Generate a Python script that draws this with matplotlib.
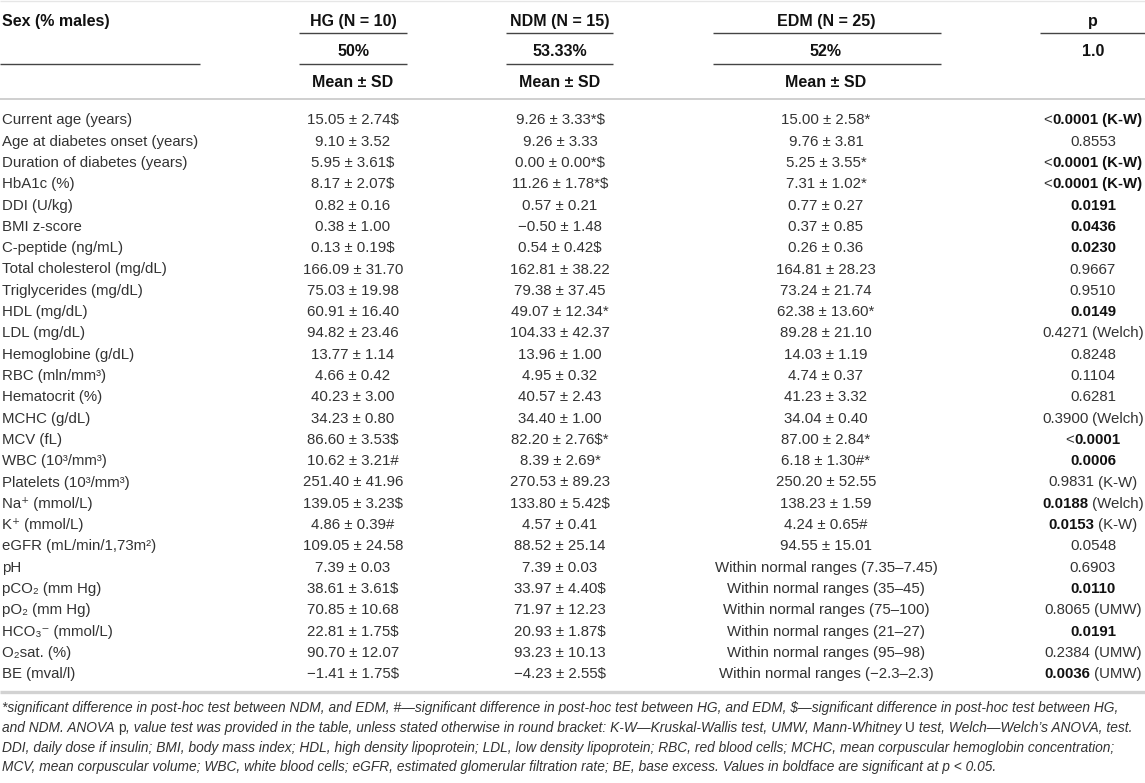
import matplotlib
matplotlib.use("Agg")
import matplotlib.pyplot as plt

plt.rcParams['font.family'] = ['Liberation Sans', 'DejaVu Sans']

# ---------------- data ----------------
row_labels = [
    "Current age (years)", "Age at diabetes onset (years)", "Duration of diabetes (years)",
    "HbA1c (%)", "DDI (U/kg)", "BMI z-score", "C-peptide (ng/mL)", "Total cholesterol (mg/dL)",
    "Triglycerides (mg/dL)", "HDL (mg/dL)", "LDL (mg/dL)", "Hemoglobine (g/dL)",
    "RBC (mln/mm³)", "Hematocrit (%)", "MCHC (g/dL)", "MCV (fL)", "WBC (10³/mm³)",
    "Platelets (10³/mm³)", "Na⁺ (mmol/L)", "K⁺ (mmol/L)", "eGFR (mL/min/1,73m²)",
    "pH", "pCO₂ (mm Hg)", "pO₂ (mm Hg)", "HCO₃⁻ (mmol/L)", "O₂sat. (%)", "BE (mval/l)",
]

groups = ["HG (N = 10)", "NDM (N = 15)", "EDM (N = 25)"]
sex_pct = ["50%", "53.33%", "52%"]
sex_p = "1.0"

hg_mean = [15.05, 9.10, 5.95, 8.17, 0.82, 0.38, 0.13, 166.09, 75.03, 60.91, 94.82, 13.77, 4.66,
           40.23, 34.23, 86.60, 10.62, 251.40, 139.05, 4.86, 109.05, 7.39, 38.61, 70.85, 22.81, 90.70, -1.41]
hg_sd = [2.74, 3.52, 3.61, 2.07, 0.16, 1.00, 0.19, 31.70, 19.98, 16.40, 23.46, 1.14, 0.42,
         3.00, 0.80, 3.53, 3.21, 41.96, 3.23, 0.39, 24.58, 0.03, 3.61, 10.68, 1.75, 12.07, 1.75]
hg_mark = ["$", "", "$", "$", "", "", "$", "", "", "", "", "", "", "", "", "$", "#", "", "$", "#",
           "", "", "$", "", "$", "", "$"]

ndm_mean = [9.26, 9.26, 0.00, 11.26, 0.57, -0.50, 0.54, 162.81, 79.38, 49.07, 104.33, 13.96, 4.95,
            40.57, 34.40, 82.20, 8.39, 270.53, 133.80, 4.57, 88.52, 7.39, 33.97, 71.97, 20.93, 93.23, -4.23]
ndm_sd = [3.33, 3.33, 0.00, 1.78, 0.21, 1.48, 0.42, 38.22, 37.45, 12.34, 42.37, 1.00, 0.32,
          2.43, 1.00, 2.76, 2.69, 89.23, 5.42, 0.41, 25.14, 0.03, 4.40, 12.23, 1.87, 10.13, 2.55]
ndm_mark = ["*$", "", "*$", "*$", "", "", "$", "", "", "*", "", "", "", "", "", "$*", "*", "", "$", "",
            "", "", "$", "", "$", "", "$"]

edm_mean = [15.00, 9.76, 5.25, 7.31, 0.77, 0.37, 0.26, 164.81, 73.24, 62.38, 89.28, 14.03, 4.74,
            41.23, 34.04, 87.00, 6.18, 250.20, 138.23, 4.24, 94.55, None, None, None, None, None, None]
edm_sd = [2.58, 3.81, 3.55, 1.02, 0.27, 0.85, 0.36, 28.23, 21.74, 13.60, 21.10, 1.19, 0.37,
          3.32, 0.40, 2.84, 1.30, 52.55, 1.59, 0.65, 15.01, None, None, None, None, None, None]
edm_mark = ["*", "", "*", "*", "", "", "", "", "", "*", "", "", "", "", "", "*", "#*", "", "", "#",
            "", "", "", "", "", "", ""]
edm_range = [None] * 21 + ["7.35–7.45", "35–45", "75–100", "21–27", "95–98", "−2.3–2.3"]

p_prefix = ["<", "", "<", "<", "", "", "", "", "", "", "", "", "", "", "", "<", "", "", "", "",
            "", "", "", "", "", "", ""]
p_value = ["0.0001", "0.8553", "0.0001", "0.0001", "0.0191", "0.0436", "0.0230", "0.9667", "0.9510",
           "0.0149", "0.4271", "0.8248", "0.1104", "0.6281", "0.3900", "0.0001", "0.0006", "0.9831",
           "0.0188", "0.0153", "0.0548", "0.6903", "0.0110", "0.8065", "0.0191", "0.2384", "0.0036"]
p_test = ["K-W", "", "K-W", "K-W", "", "", "", "", "", "", "Welch", "", "", "", "Welch", "", "",
          "K-W", "Welch", "K-W", "", "", "", "UMW", "", "UMW", "UMW"]
p_sig = [True, False, True, True, True, True, True, False, False, True, False, False, False, False,
         False, True, True, False, True, True, False, False, True, False, True, False, True]
p_test_bold = [True, False, True, True] + [False] * 23

footnote_lines = [
    [("*significant difference in post-hoc test between NDM, and EDM, #—significant difference in post-hoc test between HG, and EDM, $—significant difference in post-hoc test between HG,", {})],
    [("and NDM. ANOVA ", {}), ("p", {"style": "normal"}),
     (", value test was provided in the table, unless stated otherwise in round bracket: K-W—Kruskal-Wallis test, UMW, Mann-Whitney ", {}),
     ("U", {"style": "normal"}), (" test, Welch—Welch’s ANOVA, test.", {})],
    [("DDI, daily dose if insulin; BMI, body mass index; HDL, high density lipoprotein; LDL, low density lipoprotein; RBC, red blood cells; MCHC, mean corpuscular hemoglobin concentration;", {})],
    [("MCV, mean corpuscular volume; WBC, white blood cells; eGFR, estimated glomerular filtration rate; BE, base excess. Values in boldface are significant at p < 0.05.", {})],
]

# ---------------- layout ----------------
W, H = 1145, 783
fig = plt.figure(figsize=(W / 100, H / 100), dpi=100)
ax = fig.add_axes([0, 0, 1, 1])
ax.set_xlim(0, W)
ax.set_ylim(H, 0)
ax.axis('off')
renderer = fig.canvas.get_renderer()

BODY = 10.8      # pt
HEAD = 11.5
TXT = '#333333'
DARK = '#111111'


def measure(txt, props):
    t = ax.text(0, 0, '|' + txt + '|', **props)
    w1 = t.get_window_extent(renderer).width
    t.remove()
    t = ax.text(0, 0, '||', **props)
    w0 = t.get_window_extent(renderer).width
    t.remove()
    return w1 - w0


def draw_pieces(x, yc, pieces, ha='left', size=BODY, weight='normal', style='normal', color=TXT):
    px = size * 100 / 72
    items = []
    for txt, opt in pieces:
        props = dict(fontsize=size, fontweight=opt.get('weight', weight),
                     fontstyle=opt.get('style', style), color=opt.get('color', color))
        items.append((txt, props, measure(txt, props)))
    total = sum(it[2] for it in items)
    if ha == 'center':
        cx = x - total / 2
    elif ha == 'right':
        cx = x - total
    else:
        cx = x
    base = yc + 0.36 * px
    for txt, props, w in items:
        ax.text(cx, base, txt, ha='left', va='baseline', **props)
        cx += w
    return total


def fmt(m, s, mark):
    return f"{m:.2f}".replace('-', '−') + " ± " + f"{s:.2f}" + mark


# column positions
x_label = 2
col_x = [353, 560, 826]
p_x = 1093
col_span = [(299, 407), (506, 613), (713, 941)]
p_span = (1040, W)

y_head = [20, 50, 81]
y_line1, y_line2 = 33, 64
y_first = 119
row_h = 21.3
y_grey_top = 99
y_grey_bot = 692
y_foot = [707, 727, 747, 766]

# ---------------- header ----------------
ax.hlines(1, 0, W, color='#e6e6e6', lw=1.0)
draw_pieces(x_label, y_head[0], [("Sex (% males)", {})], size=HEAD, weight='bold', color=DARK)
ax.hlines(y_line2, 0, 200, color='#444444', lw=1.0)
for g, pct, cx, (a, b) in zip(groups, sex_pct, col_x, col_span):
    draw_pieces(cx, y_head[0], [(g, {})], ha='center', size=HEAD, weight='bold', color=DARK)
    draw_pieces(cx, y_head[1], [(pct, {})], ha='center', size=HEAD, weight='bold', color=DARK)
    draw_pieces(cx, y_head[2], [("Mean ± SD", {})], ha='center', size=HEAD, weight='bold', color=DARK)
    ax.hlines([y_line1, y_line2], a, b, color='#444444', lw=1.0)
draw_pieces(p_x, y_head[0], [("p", {})], ha='center', size=HEAD, weight='bold', color=DARK)
draw_pieces(p_x, y_head[1], [(sex_p, {})], ha='center', size=HEAD, weight='bold', color=DARK)
ax.hlines(y_line1, p_span[0], p_span[1], color='#444444', lw=1.0)
ax.hlines(y_grey_top, 0, W, color='#cfcfcf', lw=1.4)

# ---------------- body ----------------
for i, lab in enumerate(row_labels):
    yc = y_first + i * row_h
    draw_pieces(x_label, yc, [(lab, {})])
    draw_pieces(col_x[0], yc, [(fmt(hg_mean[i], hg_sd[i], hg_mark[i]), {})], ha='center')
    draw_pieces(col_x[1], yc, [(fmt(ndm_mean[i], ndm_sd[i], ndm_mark[i]), {})], ha='center')
    if edm_mean[i] is None:
        etxt = f"Within normal ranges ({edm_range[i]})"
    else:
        etxt = fmt(edm_mean[i], edm_sd[i], edm_mark[i])
    draw_pieces(col_x[2], yc, [(etxt, {})], ha='center')
    # p column
    pieces = []
    if p_prefix[i]:
        pieces.append((p_prefix[i], {}))
    pieces.append((p_value[i], {'weight': 'bold', 'color': DARK} if p_sig[i] else {}))
    if p_test[i]:
        pieces.append((f" ({p_test[i]})", {'weight': 'bold', 'color': DARK} if p_test_bold[i] else {}))
    draw_pieces(p_x, yc, pieces, ha='center')

ax.hlines(y_grey_bot, 0, W, color='#d2d2d2', lw=2.4)

# ---------------- footnote ----------------
widths = []
for pieces in footnote_lines:
    widths.append(sum(measure(t, dict(fontsize=10, fontstyle=o.get('style', 'italic'))) for t, o in pieces))
foot_size = 10 * 1138 / max(widths)
for yc, pieces in zip(y_foot, footnote_lines):
    draw_pieces(x_label, yc, pieces, size=foot_size, style='italic', color=TXT)

fig.savefig("out.png", dpi=100)
